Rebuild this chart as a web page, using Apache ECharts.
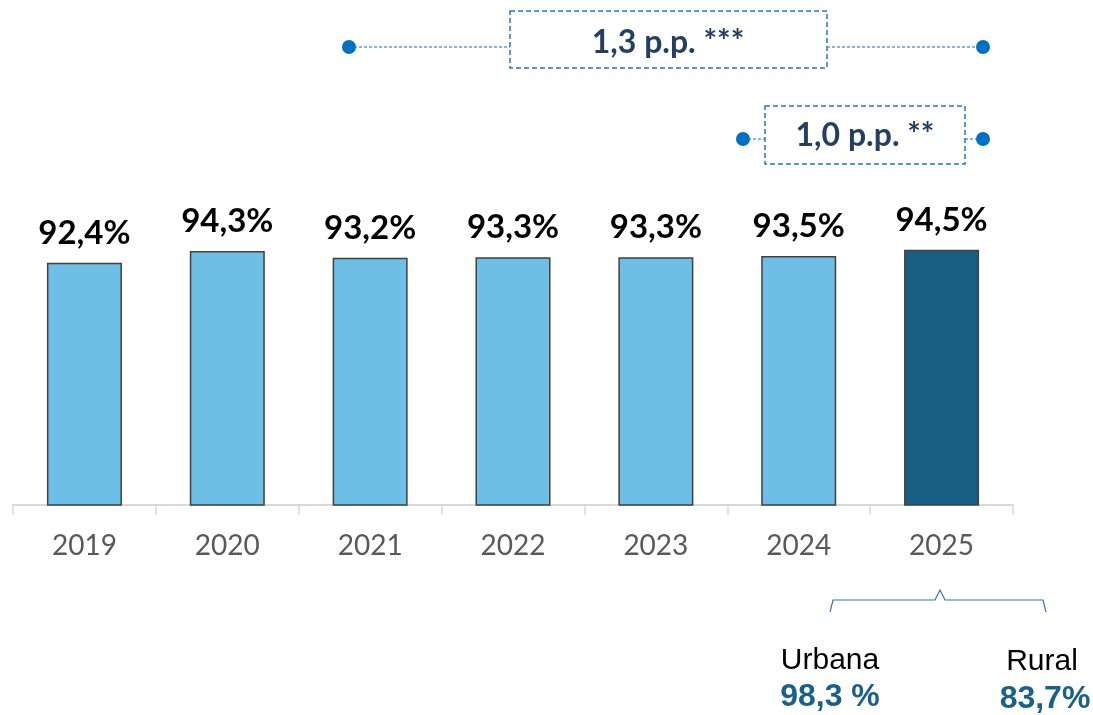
<!DOCTYPE html>
<html>
<head>
<meta charset="utf-8">
<script src="https://cdn.jsdelivr.net/npm/echarts@6/dist/echarts.min.js"></script>
<style>
  html, body { margin: 0; padding: 0; background: #fff; }
  #main { width: 1093px; height: 715px; }
</style>
</head>
<body>
<div id="main"></div>
<script>
  // datos
  const years = ['2019', '2020', '2021', '2022', '2023', '2024', '2025'];
  const rates = [92.4, 94.3, 93.2, 93.3, 93.3, 93.5, 94.5];
  const barColors = ['#6fbee5', '#6fbee5', '#6fbee5', '#6fbee5', '#6fbee5', '#6fbee5', '#175e82'];
  const zoneNames = ['Urbana', 'Rural'];
  const zoneRates = ['98,3 %', '83,7%'];
  const diffLabels = ['1,3 p.p. ***', '1,0 p.p. **'];

  const chart = echarts.init(document.getElementById('main'));

  const blue = '#0070c0';
  const dash = { stroke: '#2e75b6', lineWidth: 1.5, lineDash: [5, 3], fill: null };

  chart.setOption({
    animation: false,
    grid: { left: 13, right: 80, top: 216, bottom: 210 },
    xAxis: {
      type: 'category',
      data: years,
      axisLine: { lineStyle: { color: '#d9d9d9', width: 2 } },
      axisTick: { show: true, length: 10, lineStyle: { color: '#d9d9d9', width: 1.5 } },
      axisLabel: { color: '#595959', fontSize: 28, fontFamily: 'Lato', margin: 27 }
    },
    yAxis: { type: 'value', min: 53, max: 100, show: false },
    series: [{
      type: 'bar',
      barWidth: 75,
      data: rates.map((v, i) => ({
        value: v,
        itemStyle: { color: barColors[i], borderColor: '#404040', borderWidth: 1.5 }
      })),
      label: {
        show: true,
        position: 'top',
        distance: 13,
        color: '#000',
        fontSize: 33,
        fontWeight: 'bold',
        fontFamily: 'Lato',
        formatter: p => p.value.toFixed(1).replace('.', ',') + '%'
      }
    }],
    graphic: [
      // primera comparacion
      { type: 'line', shape: { x1: 349, y1: 47, x2: 510, y2: 47 }, style: { stroke: blue, lineWidth: 1, lineDash: [3, 2] } },
      { type: 'line', shape: { x1: 827, y1: 47, x2: 983, y2: 47 }, style: { stroke: blue, lineWidth: 1, lineDash: [3, 2] } },
      { type: 'circle', shape: { cx: 349, cy: 47, r: 7 }, style: { fill: blue } },
      { type: 'circle', shape: { cx: 983, cy: 47, r: 7 }, style: { fill: blue } },
      { type: 'rect', shape: { x: 510, y: 11, width: 317, height: 57 }, style: dash },
      { type: 'text', x: 668, y: 43, style: { text: diffLabels[0], fill: '#243f60', font: 'bold 32px Lato', align: 'center', verticalAlign: 'middle' } },
      // segunda comparacion
      { type: 'line', shape: { x1: 743, y1: 139, x2: 765, y2: 139 }, style: { stroke: blue, lineWidth: 1, lineDash: [3, 2] } },
      { type: 'line', shape: { x1: 965, y1: 139, x2: 983, y2: 139 }, style: { stroke: blue, lineWidth: 1, lineDash: [3, 2] } },
      { type: 'circle', shape: { cx: 743, cy: 139, r: 7 }, style: { fill: blue } },
      { type: 'circle', shape: { cx: 983, cy: 139, r: 7 }, style: { fill: blue } },
      { type: 'rect', shape: { x: 765, y: 106, width: 200, height: 58 }, style: dash },
      { type: 'text', x: 865, y: 136, style: { text: diffLabels[1], fill: '#243f60', font: 'bold 32px Lato', align: 'center', verticalAlign: 'middle' } },
      // llave urbana / rural
      {
        type: 'polyline',
        shape: { points: [[830, 612], [833, 600], [935, 600], [940, 590], [945, 600], [1043, 600], [1046, 612]] },
        style: { stroke: '#2e75b6', lineWidth: 1.2, fill: null }
      },
      { type: 'text', x: 830, y: 661, style: { text: zoneNames[0], fill: '#000', font: '30px "Liberation Sans"', align: 'center', verticalAlign: 'middle' } },
      { type: 'text', x: 830, y: 697, style: { text: zoneRates[0], fill: '#1b6086', font: 'bold 32px "Liberation Sans"', align: 'center', verticalAlign: 'middle' } },
      { type: 'text', x: 1042, y: 662, style: { text: zoneNames[1], fill: '#000', font: '30px "Liberation Sans"', align: 'center', verticalAlign: 'middle' } },
      { type: 'text', x: 1045, y: 699, style: { text: zoneRates[1], fill: '#1b6086', font: 'bold 32px "Liberation Sans"', align: 'center', verticalAlign: 'middle' } }
    ]
  });
</script>
</body>
</html>
